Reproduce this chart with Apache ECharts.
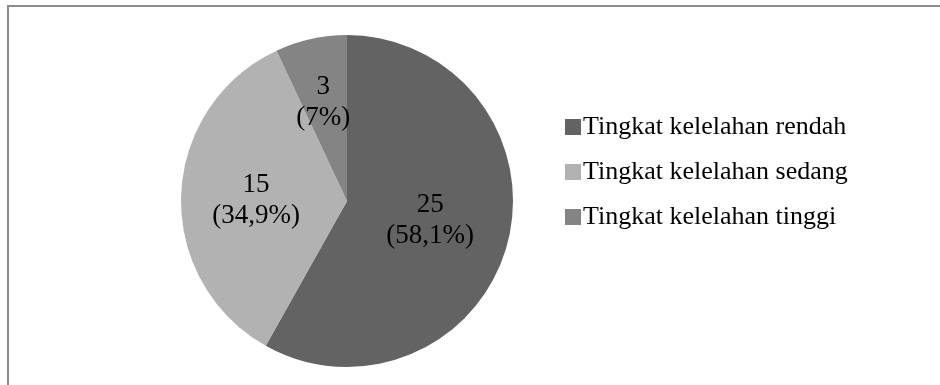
<!DOCTYPE html>
<html>
<head>
<meta charset="utf-8">
<script src="https://cdn.jsdelivr.net/npm/echarts@6/dist/echarts.min.js"></script>
<style>
html,body{margin:0;padding:0;background:#fff;}
#c{width:940px;height:385px;}
</style>
</head>
<body>
<div id="c"></div>
<script>
var categories = ['Tingkat kelelahan rendah', 'Tingkat kelelahan sedang', 'Tingkat kelelahan tinggi'];
var values = [25, 15, 3];
var colors = ['#636363', '#b2b2b2', '#848484'];

var total = values.reduce(function (a, b) { return a + b; }, 0);
function pctText(v) {
  var p = Math.round(v / total * 1000) / 10;
  var s = (p % 1 === 0) ? String(p) : p.toFixed(1).replace('.', ',');
  return s + '%';
}
// label nudges (style only), by slice index
var labelOffsets = [[0, -2], [-5, 3], [-5, -15]];

var chart = echarts.init(document.getElementById('c'), null, { renderer: 'canvas' });
chart.setOption({
  animation: false,
  backgroundColor: '#ffffff',
  color: colors,
  graphic: [{
    type: 'rect',
    silent: true,
    shape: { x: 8, y: 6, width: 1200, height: 800 },
    style: { fill: 'none', stroke: '#8c8c8c', lineWidth: 2 }
  }],
  legend: {
    orient: 'vertical',
    left: 560,
    top: 109,
    itemWidth: 16,
    itemHeight: 16,
    itemGap: 19,
    icon: 'rect',
    textStyle: {
      fontFamily: 'Liberation Serif',
      fontSize: 26,
      color: '#000',
      padding: [0, 0, 0, -3]
    },
    data: categories
  },
  series: [{
    type: 'pie',
    center: [347, 201],
    radius: 166,
    startAngle: 90,
    clockwise: true,
    avoidLabelOverlap: false,
    label: {
      show: true,
      position: 'inside',
      fontFamily: 'Liberation Serif',
      fontSize: 27,
      lineHeight: 31,
      color: '#000',
      formatter: function (p) { return p.value + '\n(' + pctText(p.value) + ')'; }
    },
    labelLine: { show: false },
    emphasis: { disabled: true },
    itemStyle: { borderWidth: 0 },
    data: categories.map(function (c, i) {
      return { name: c, value: values[i], label: { offset: labelOffsets[i] } };
    })
  }]
});
</script>
</body>
</html>
